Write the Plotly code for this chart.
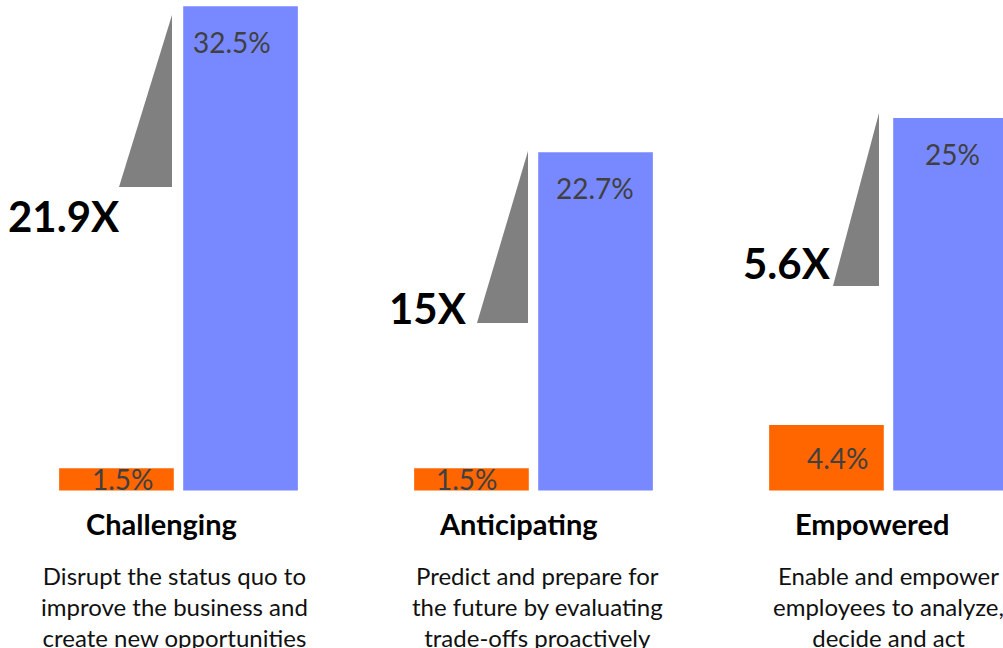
import plotly.graph_objects as go

# ---- data ----
categories = ["Challenging", "Anticipating", "Empowered"]
descriptions = [
    "Disrupt the status quo to<br>improve the business and<br>create new opportunities",
    "Predict and prepare for<br>the future by evaluating<br>trade-offs proactively",
    "Enable and empower<br>employees to analyze,<br>decide and act",
]
baseline_vals = [1.5, 1.5, 4.4]
leader_vals = [32.5, 22.7, 25]
multipliers = ["21.9X", "15X", "5.6X"]

# ---- styling / layout helpers ----
ORANGE = "#FF6600"
BLUE = "#7889FF"
GRAY = "#808080"
FONT = "Lato"
W, H = 1003, 648
X0_PX, X_UNIT = 178.5, 355.0      # pixel of group 0 centre, pixels per group
BASE_PX, Y_UNIT = 490.5, 14.9     # pixel of zero line, pixels per percent


def px2x(px):
    return (px - X0_PX) / X_UNIT


def px2y(py):
    return (BASE_PX - py) / Y_UNIT


idx = list(range(len(categories)))
half = 0.1745  # offset of each bar in a group (grouped bars)

fig = go.Figure()
fig.add_trace(go.Bar(x=idx, y=baseline_vals, marker_color=ORANGE, marker_line_width=0,
                     hoverinfo="skip"))
fig.add_trace(go.Bar(x=idx, y=leader_vals, marker_color=BLUE, marker_line_width=0,
                     hoverinfo="skip"))

annotations = []
shapes = []

# decorative triangle geometry (pixels) and label placement (pixels)
tri_right_px = [172, 528, 879]
tri_width_px = [53, 51, 46]
tri_top_px = [15, 151, 113]
tri_bottom_px = [187, 323, 286]
mult_pos_px = [(122, 216), (469, 308), (833, 263)]
blue_label_xshift = [-8, 0, 2]
orange_label_xshift = [6, -5, 11]
title_x_px = [161, 518, 872]
desc_x_px = [174, 537, 888]

for i in idx:
    # gray triangle
    xr = px2x(tri_right_px[i])
    xl = px2x(tri_right_px[i] - tri_width_px[i])
    yt = px2y(tri_top_px[i])
    yb = px2y(tri_bottom_px[i])
    shapes.append(dict(type="path", xref="x", yref="y",
                       path=f"M {xr} {yt} L {xr} {yb} L {xl} {yb} Z",
                       fillcolor=GRAY, line=dict(width=0), layer="above"))
    # multiplier
    mx, my = mult_pos_px[i]
    annotations.append(dict(x=px2x(mx), y=px2y(my), xref="x", yref="y",
                            text=f"<b>{multipliers[i]}</b>", showarrow=False,
                            xanchor="right", yanchor="middle",
                            font=dict(family=FONT, size=42, color="#000000")))
    # value labels
    annotations.append(dict(x=i + half, y=leader_vals[i], xref="x", yref="y",
                            text=f"{leader_vals[i]:g}%", showarrow=False,
                            xanchor="center", yanchor="middle", yshift=-36,
                            xshift=blue_label_xshift[i],
                            font=dict(family=FONT, size=28, color="#404040")))
    annotations.append(dict(x=i - half, y=baseline_vals[i] / 2, xref="x", yref="y",
                            text=f"{baseline_vals[i]:g}%", showarrow=False,
                            xanchor="center", yanchor="middle",
                            xshift=orange_label_xshift[i],
                            font=dict(family=FONT, size=28, color="#404040")))
    # category title and description
    annotations.append(dict(x=title_x_px[i] / W, y=1 - 523 / H, xref="paper", yref="paper",
                            text=f"<b>{categories[i]}</b>", showarrow=False,
                            xanchor="center", yanchor="middle",
                            font=dict(family=FONT, size=29, color="#000000")))
    annotations.append(dict(x=desc_x_px[i] / W, y=1 - 606 / H, xref="paper", yref="paper",
                            text=descriptions[i], showarrow=False,
                            xanchor="center", yanchor="middle", align="center",
                            font=dict(family=FONT, size=24, color="#111111")))

fig.update_layout(
    width=W, height=H,
    margin=dict(l=0, r=0, t=0, b=0),
    paper_bgcolor="white", plot_bgcolor="white",
    showlegend=False,
    barmode="group", bargap=0.301, bargroupgap=0.076,
    xaxis=dict(visible=False, range=[px2x(0), px2x(W)], fixedrange=True),
    yaxis=dict(visible=False, range=[px2y(H), px2y(0)], fixedrange=True),
    shapes=shapes,
    annotations=annotations,
)

fig.write_html("out.html", config={"displayModeBar": False},
               post_script="document.body.style.margin='0';document.body.style.overflow='hidden';")
